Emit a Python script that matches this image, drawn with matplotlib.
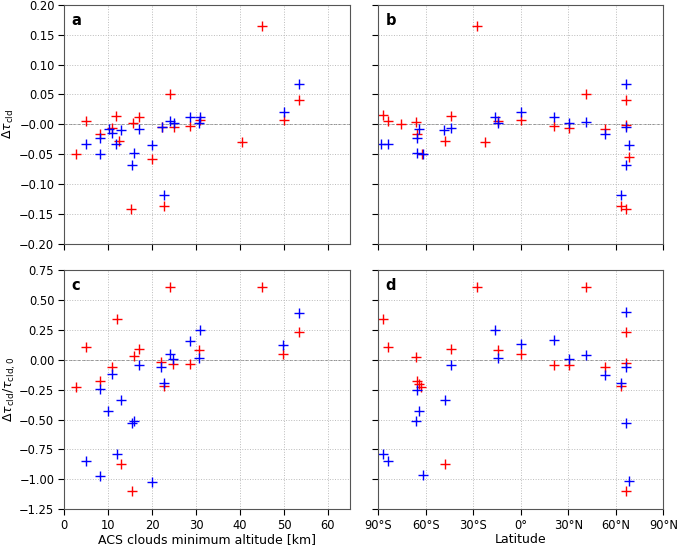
import numpy as np
import matplotlib
matplotlib.use("Agg")
import matplotlib.pyplot as plt

# ---------------------------
# DATA
# ---------------------------

# panel a: altitude vs delta tau
alt_a_red = [2.7, 4.9, 8.1, 10.8, 11.9, 12.5, 15.6, 17.0, 15.3, 19.9, 22.2, 22.8, 24.1, 24.9, 28.7, 30.9, 40.5, 45.0, 49.9, 53.3]
dtau_a_red = [-0.050, 0.005, -0.016, -0.006, 0.014, -0.028, 0.003, 0.013, -0.141, -0.057, -0.004, -0.137, 0.051, -0.005, -0.003, 0.007, -0.029, 0.164, 0.007, 0.040]
alt_a_blue = [4.9, 8.1, 8.1, 10.2, 10.8, 11.9, 12.9, 15.4, 15.9, 17.0, 19.9, 22.2, 22.8, 24.1, 24.9, 28.7, 30.9, 30.7, 49.9, 53.3]
dtau_a_blue = [-0.033, -0.023, -0.050, -0.007, -0.015, -0.033, -0.009, -0.068, -0.047, -0.007, -0.035, -0.005, -0.118, 0.006, 0.002, 0.013, 0.012, 0.002, 0.020, 0.067]

# panel b: latitude vs delta tau
lat_b_red = [-86.8, -83.7, -75.5, -66.4, -65.8, -62.6, -47.9, -43.9, -27.5, -22.8, -14.6, 0.1, 20.7, 30.6, 41.2, 53.2, 63.3, 66.2, 66.2, 66.2, 68.1]
dtau_b_red = [0.015, 0.005, 0.000, 0.004, -0.016, -0.050, -0.027, 0.014, 0.164, -0.029, 0.005, 0.007, -0.003, -0.006, 0.051, -0.007, -0.136, -0.141, 0.040, -0.001, -0.055]
lat_b_blue = [-88.4, -83.7, -65.8, -65.8, -64.3, -62.0, -48.3, -43.9, -16.1, -14.4, 0.1, 20.7, 30.6, 41.2, 53.2, 63.3, 66.2, 66.2, 68.1, 66.2]
dtau_b_blue = [-0.033, -0.033, -0.023, -0.047, -0.008, -0.050, -0.009, -0.006, 0.012, 0.003, 0.020, 0.013, 0.002, 0.004, -0.016, -0.118, 0.067, -0.005, -0.035, -0.068]

# panel c: altitude vs relative delta tau
alt_c_red = [2.7, 4.9, 8.1, 10.9, 12.0, 12.9, 15.4, 15.8, 17.0, 22.0, 22.7, 24.1, 24.8, 28.6, 30.7, 44.9, 49.8, 53.3]
rel_c_red = [-0.228, 0.104, -0.175, -0.058, 0.338, -0.871, -1.094, 0.028, 0.087, -0.022, -0.220, 0.605, -0.039, -0.039, 0.079, 0.605, 0.045, 0.232]
alt_c_blue = [4.9, 8.1, 8.1, 10.0, 10.9, 12.0, 12.9, 15.4, 15.8, 17.0, 19.9, 22.0, 22.7, 24.1, 24.7, 28.6, 30.9, 30.7, 49.8, 53.3]
rel_c_blue = [-0.844, -0.247, -0.969, -0.425, -0.119, -0.788, -0.336, -0.531, -0.509, -0.044, -1.019, -0.058, -0.197, 0.048, 0.009, 0.160, 0.246, 0.015, 0.120, 0.393]

# panel d: latitude vs relative delta tau
lat_d_red = [-87.3, -83.7, -66.2, -65.8, -64.3, -62.8, -47.9, -43.9, -27.5, -14.6, 0.1, 20.7, 30.6, 41.2, 53.2, 63.3, 66.2, 66.2, 66.2]
rel_d_red = [0.337, 0.103, 0.025, -0.175, -0.200, -0.226, -0.869, 0.086, 0.604, 0.081, 0.045, -0.045, -0.045, 0.604, -0.058, -0.220, 0.234, -0.025, -1.095]
lat_d_blue = [-87.3, -83.7, -65.8, -64.3, -66.2, -61.6, -47.9, -43.9, -16.1, -14.4, 0.1, 20.7, 30.6, 41.2, 53.2, 63.3, 66.2, 66.2, 66.2, 68.1]
rel_d_blue = [-0.788, -0.844, -0.253, -0.426, -0.510, -0.964, -0.337, -0.047, 0.245, 0.014, 0.128, 0.162, 0.008, 0.042, -0.125, -0.192, 0.398, -0.058, -0.526, -1.014]

lat_ticks = [-90, -60, -30, 0, 30, 60, 90]
lat_labels = ["90°S", "60°S", "30°S", "0°", "30°N", "60°N", "90°N"]

# ---------------------------
# FIGURE
# ---------------------------

plt.rcParams["font.size"] = 9
plt.rcParams["xtick.labelsize"] = 8.3
plt.rcParams["ytick.labelsize"] = 8.3
fig = plt.figure(figsize=(6.78, 5.46), dpi=100)

w_l, w_r, h = 0.4218, 0.4204, 0.4383
ax_a = fig.add_axes([0.0944, 0.5530, w_l, h])
ax_b = fig.add_axes([0.5580, 0.5530, w_r, h])
ax_c = fig.add_axes([0.0944, 0.0672, w_l, h])
ax_d = fig.add_axes([0.5580, 0.0672, w_r, h])

mk = dict(marker="+", linestyle="none", markersize=7.5, markeredgewidth=1.0)

ax_a.plot(alt_a_red, dtau_a_red, color="red", **mk)
ax_a.plot(alt_a_blue, dtau_a_blue, color="blue", **mk)
ax_b.plot(lat_b_red, dtau_b_red, color="red", **mk)
ax_b.plot(lat_b_blue, dtau_b_blue, color="blue", **mk)
ax_c.plot(alt_c_red, rel_c_red, color="red", **mk)
ax_c.plot(alt_c_blue, rel_c_blue, color="blue", **mk)
ax_d.plot(lat_d_red, rel_d_red, color="red", **mk)
ax_d.plot(lat_d_blue, rel_d_blue, color="blue", **mk)

for ax, lab in zip([ax_a, ax_b, ax_c, ax_d], "abcd"):
    ax.axhline(0, color="grey", linestyle="--", linewidth=0.6, zorder=0)
    ax.grid(True, linestyle=":", color="#bbbbbb", linewidth=0.7)
    ax.set_axisbelow(True)
    for s in ax.spines.values():
        s.set_color("#555555")
    ax.tick_params(colors="black", length=4, pad=3)
    ax.text(0.025, 0.965, lab, transform=ax.transAxes, fontweight="bold",
            fontsize=10.5, va="top", ha="left")

for ax in [ax_a, ax_c]:
    ax.set_xlim(0, 65)
    ax.set_xticks(np.arange(0, 61, 10))
for ax in [ax_b, ax_d]:
    ax.set_xlim(-90, 90)
    ax.set_xticks(lat_ticks)
    ax.set_xticklabels(lat_labels)

for ax in [ax_a, ax_b]:
    ax.set_ylim(-0.2, 0.2)
    ax.set_yticks(np.arange(-0.2, 0.201, 0.05))
    ax.set_xticklabels([])
for ax in [ax_c, ax_d]:
    ax.set_ylim(-1.25, 0.75)
    ax.set_yticks(np.arange(-1.25, 0.751, 0.25))

ax_a.set_yticklabels([f"{v:.2f}".replace("-", "\u2212") for v in np.arange(-0.2, 0.201, 0.05)])
ax_c.set_yticklabels([f"{v:.2f}".replace("-", "\u2212") for v in np.arange(-1.25, 0.751, 0.25)])
ax_b.set_yticklabels([])
ax_d.set_yticklabels([])

ax_a.set_ylabel(r"$\Delta\tau_{\rm cld}$", labelpad=2)
ax_c.set_ylabel(r"$\Delta\tau_{\rm cld}/\tau_{\rm cld,0}$", labelpad=1)
ax_c.set_xlabel("ACS clouds minimum altitude [km]", labelpad=0.5)
ax_d.set_xlabel("Latitude", labelpad=0.5)

fig.savefig("out.png", dpi=100)
